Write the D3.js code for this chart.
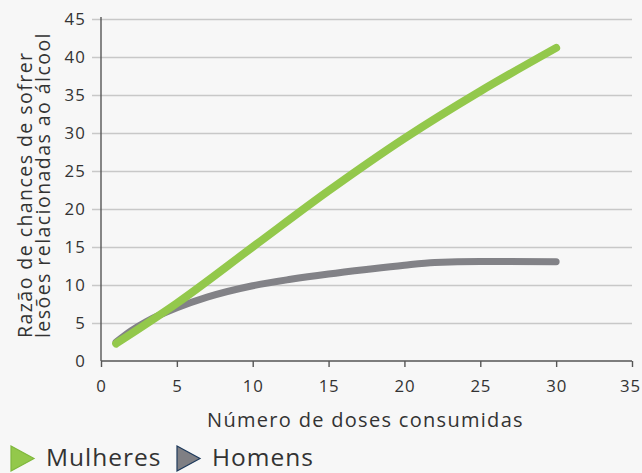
<!DOCTYPE html>
<html><head><meta charset="utf-8">
<script src="https://cdn.jsdelivr.net/npm/d3@7"></script>
<style>
html,body{margin:0;padding:0;background:#f7f7f7;}
svg{display:block;font-family:"Open Sans",sans-serif;}
</style></head>
<body>
<svg id="chart" width="642" height="473"></svg>
<script>
// Data
const mulheresX = [1, 5, 10, 15, 20, 25, 30];
const mulheresY = [2.3, 7.6, 15.0, 22.4, 29.3, 35.5, 41.2];
const homensX = [1, 2, 3, 5, 7, 10, 12.5, 15, 17.5, 20, 22, 25, 30];
const homensY = [2.5, 4.0, 5.2, 7.0, 8.4, 9.9, 10.75, 11.45, 12.05, 12.6, 12.95, 13.1, 13.05];
const xTicks = [0, 5, 10, 15, 20, 25, 30, 35];
const yTicks = [0, 5, 10, 15, 20, 25, 30, 35, 40, 45];
const seriesNames = ["Mulheres", "Homens"];
const xTitle = "Número de doses consumidas";
const yTitleLines = ["Razão de chances de sofrer", "lesões relacionadas ao álcool"];

const svg = d3.select("#chart");
const pLeft = 101, pRight = 632, pTop = 19, pBottom = 361;
const x = d3.scaleLinear().domain([0, 35]).range([pLeft, pRight]);
const y = d3.scaleLinear().domain([0, 45]).range([pBottom, pTop]);

svg.append("rect").attr("width", 642).attr("height", 473).attr("fill", "#f7f7f7");

// gridlines + y axis
const yAxis = d3.axisLeft(y).tickValues(yTicks).tickSize(-(pRight - pLeft)).tickPadding(15);
const gy = svg.append("g").attr("transform", `translate(${pLeft},0)`).call(yAxis);
gy.select(".domain").remove();
gy.selectAll(".tick line").attr("x1", -9).attr("stroke", "#c8c8c8").attr("stroke-width", 1.4);
gy.selectAll(".tick text").attr("font-size", 16.8).attr("fill", "#333").attr("font-family", "Open Sans")
  .attr("letter-spacing", 1.2).attr("dy", "0.34em");
gy.selectAll(".tick").filter(d => d === 0).select("line").attr("stroke", "none");

// x axis
const xAxis = d3.axisBottom(x).tickValues(xTicks).tickSize(6).tickPadding(13);
const gx = svg.append("g").attr("transform", `translate(0,${pBottom})`).call(xAxis);
gx.select(".domain").attr("stroke", "#555").attr("stroke-width", 1.4).attr("d", `M${pLeft},0H${pRight}`);
gx.selectAll(".tick line").attr("stroke", "#555").attr("stroke-width", 1.4);
gx.selectAll(".tick text").attr("font-size", 16.8).attr("fill", "#333").attr("font-family", "Open Sans")
  .attr("letter-spacing", 0.8);
gx.selectAll(".tick").filter(d => d === 35).select("text").attr("dx", "-2");

// y axis line
svg.append("line").attr("x1", pLeft).attr("x2", pLeft).attr("y1", pTop - 2).attr("y2", pBottom)
  .attr("stroke", "#555").attr("stroke-width", 1.4);

// lines
const line = d3.line().x(d => x(d[0])).y(d => y(d[1])).curve(d3.curveMonotoneX);
const homens = homensX.map((v, i) => [v, homensY[i]]);
const mulheres = mulheresX.map((v, i) => [v, mulheresY[i]]);
svg.append("path").datum(homens).attr("d", line).attr("fill", "none")
  .attr("stroke", "#828287").attr("stroke-width", 7).attr("stroke-linecap", "round").attr("stroke-linejoin", "round");
svg.append("path").datum(mulheres).attr("d", line).attr("fill", "none")
  .attr("stroke", "#93c84b").attr("stroke-width", 8).attr("stroke-linecap", "round").attr("stroke-linejoin", "round");

// titles
svg.append("text").attr("x", (pLeft + pRight) / 2 - 1).attr("y", 427).attr("text-anchor", "middle")
  .attr("font-size", 20).attr("letter-spacing", 1.3).attr("fill", "#333").text(xTitle);
yTitleLines.forEach((t, i) => {
  svg.append("text").attr("transform", `translate(${32 + i * 18},338) rotate(-90)`)
    .attr("font-size", 19.5).attr("letter-spacing", 1.45).attr("fill", "#333").text(t);
});

// legend
const legend = [
  {name: seriesNames[0], fill: "#93c84b", stroke: "#7fb83c", x: 11},
  {name: seriesNames[1], fill: "#7f7f84", stroke: "#1e3a5c", x: 177}
];
legend.forEach(l => {
  svg.append("path").attr("d", `M${l.x},446L${l.x + 23},458.5L${l.x},471Z`)
    .attr("fill", l.fill).attr("stroke", l.stroke).attr("stroke-width", 1.2);
  svg.append("text").attr("x", l.x + 35).attr("y", 465.5).attr("font-size", 24.5).attr("letter-spacing", 1)
    .attr("fill", "#333").text(l.name);
});
</script>
</body></html>
